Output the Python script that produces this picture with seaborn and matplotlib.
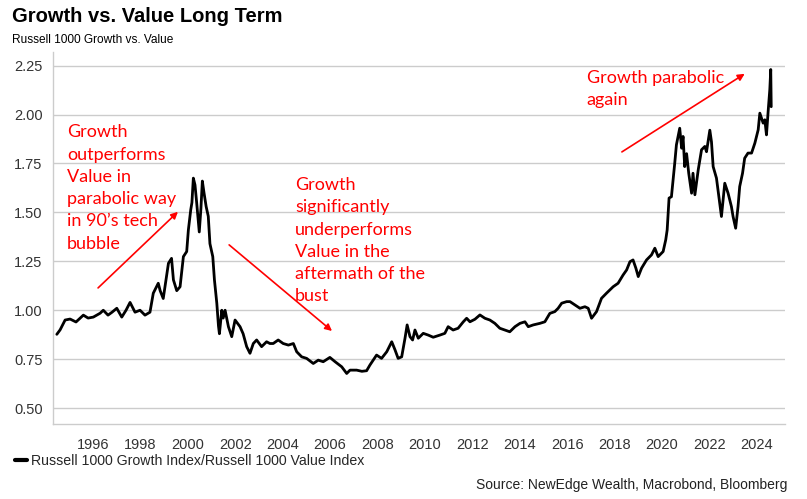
import matplotlib
matplotlib.use("Agg")
import matplotlib.pyplot as plt
import seaborn as sns

# Russell 1000 Growth / Russell 1000 Value ratio
years = [
    1994.47, 1994.61, 1994.82, 1995.03, 1995.28, 1995.59, 1995.79, 1996.01,
    1996.30, 1996.43, 1996.63, 1996.80, 1997.00, 1997.21, 1997.39, 1997.56,
    1997.77, 1997.98, 1998.19, 1998.40, 1998.54, 1998.75, 1998.83, 1998.96,
    1999.18, 1999.31, 1999.39, 1999.53, 1999.67, 1999.81, 1999.95, 2000.02,
    2000.12, 2000.17, 2000.23, 2000.30, 2000.37, 2000.48, 2000.55, 2000.61,
    2000.68, 2000.77, 2000.86, 2000.93, 2001.05, 2001.12, 2001.22, 2001.29,
    2001.33, 2001.43, 2001.49, 2001.57, 2001.71, 2001.85, 2001.99, 2002.20,
    2002.33, 2002.48, 2002.62, 2002.76, 2002.90, 2003.11, 2003.32, 2003.46,
    2003.60, 2003.81, 2004.02, 2004.24, 2004.45, 2004.59, 2004.80, 2005.01,
    2005.29, 2005.50, 2005.71, 2005.99, 2006.21, 2006.49, 2006.70, 2006.84,
    2007.12, 2007.34, 2007.54, 2007.68, 2007.96, 2008.17, 2008.39, 2008.60,
    2008.74, 2008.87, 2009.02, 2009.16, 2009.25, 2009.37, 2009.48, 2009.58,
    2009.72, 2009.93, 2010.14, 2010.35, 2010.63, 2010.84, 2010.98, 2011.19,
    2011.40, 2011.62, 2011.76, 2011.90, 2012.11, 2012.32, 2012.53, 2012.74,
    2012.95, 2013.16, 2013.37, 2013.58, 2013.80, 2014.01, 2014.22, 2014.36,
    2014.57, 2014.85, 2015.06, 2015.27, 2015.48, 2015.62, 2015.77, 2015.98,
    2016.12, 2016.33, 2016.54, 2016.75, 2016.89, 2017.03, 2017.24, 2017.45,
    2017.66, 2017.94, 2018.15, 2018.36, 2018.51, 2018.65, 2018.78, 2018.90,
    2019.00, 2019.14, 2019.35, 2019.56, 2019.70, 2019.84, 2020.05, 2020.16,
    2020.22, 2020.30, 2020.40, 2020.54, 2020.61, 2020.75, 2020.83, 2020.89,
    2020.96, 2021.04, 2021.13, 2021.25, 2021.31, 2021.39, 2021.53, 2021.67,
    2021.81, 2021.88, 2022.02, 2022.09, 2022.16, 2022.30, 2022.44, 2022.51,
    2022.65, 2022.79, 2022.93, 2023.00, 2023.11, 2023.21, 2023.28, 2023.40,
    2023.49, 2023.63, 2023.78, 2023.92, 2024.06, 2024.13, 2024.27, 2024.34,
    2024.41, 2024.48, 2024.55, 2024.59, 2024.61,
]
ratio = [
    0.877, 0.900, 0.950, 0.955, 0.940, 0.975, 0.960, 0.965,
    0.985, 1.000, 0.975, 0.990, 1.010, 0.965, 1.000, 1.040,
    0.990, 1.000, 0.975, 0.990, 1.087, 1.138, 1.100, 1.060,
    1.240, 1.265, 1.155, 1.100, 1.120, 1.274, 1.300, 1.410,
    1.513, 1.550, 1.675, 1.640, 1.550, 1.400, 1.520, 1.660,
    1.600, 1.530, 1.480, 1.340, 1.274, 1.155, 1.036, 0.920,
    0.880, 1.000, 0.960, 1.000, 0.916, 0.865, 0.950, 0.916,
    0.880, 0.814, 0.780, 0.830, 0.848, 0.814, 0.839, 0.830,
    0.830, 0.848, 0.830, 0.822, 0.830, 0.788, 0.762, 0.754,
    0.728, 0.745, 0.737, 0.759, 0.737, 0.711, 0.677, 0.694,
    0.694, 0.688, 0.691, 0.720, 0.771, 0.754, 0.788, 0.839,
    0.797, 0.754, 0.762, 0.857, 0.925, 0.865, 0.848, 0.899,
    0.857, 0.882, 0.873, 0.862, 0.873, 0.882, 0.916, 0.899,
    0.908, 0.941, 0.959, 0.941, 0.954, 0.976, 0.959, 0.950,
    0.933, 0.908, 0.899, 0.890, 0.916, 0.933, 0.941, 0.916,
    0.925, 0.933, 0.941, 0.984, 0.993, 1.010, 1.036, 1.044,
    1.044, 1.027, 1.010, 1.018, 1.010, 0.959, 0.993, 1.061,
    1.087, 1.120, 1.138, 1.180, 1.206, 1.248, 1.257, 1.215,
    1.172, 1.215, 1.257, 1.283, 1.317, 1.274, 1.300, 1.360,
    1.410, 1.573, 1.580, 1.752, 1.845, 1.930, 1.828, 1.888,
    1.734, 1.800, 1.700, 1.598, 1.700, 1.590, 1.717, 1.820,
    1.837, 1.810, 1.920, 1.860, 1.734, 1.675, 1.547, 1.479,
    1.649, 1.598, 1.530, 1.479, 1.419, 1.530, 1.632, 1.700,
    1.777, 1.803, 1.803, 1.854, 1.922, 2.007, 1.956, 1.973,
    1.896, 2.016, 2.127, 2.230, 2.040,
]

x_ticks = list(range(1996, 2025, 2))
y_ticks = [0.50, 0.75, 1.00, 1.25, 1.50, 1.75, 2.00, 2.25]

notes = [
    "Growth\noutperforms\nValue in\nparabolic way\nin 90\u2019s tech\nbubble",
    "Growth\nsignificantly\nunderperforms\nValue in the\naftermath of the\nbust",
    "Growth parabolic\nagain",
]
note_xy = [(1994.90, 1.950), (2004.52, 1.680), (2016.83, 2.227)]
arrows = [
    ((1996.21, 1.114), (1999.58, 1.503)),
    ((2001.74, 1.334), (2006.08, 0.894)),
    ((2018.31, 1.809), (2023.49, 2.208)),
]

sns.set_style("white")
plt.rcParams["font.family"] = ["Liberation Sans", "DejaVu Sans"]

fig = plt.figure(figsize=(8.07, 4.99), dpi=100)
ax = fig.add_axes([0.0657, 0.150, 0.907, 0.746])

sns.lineplot(x=years, y=ratio, ax=ax, color="black", linewidth=2.0,
             label="Russell 1000 Growth Index/Russell 1000 Value Index")

ax.set_xlim(1994.31, 2025.19)
ax.set_ylim(0.418, 2.32)
ax.set_xticks(x_ticks)
ax.set_xticklabels([str(t) for t in x_ticks])
ax.set_yticks(y_ticks)
ax.set_yticklabels([f"{t:.2f}" for t in y_ticks])
ax.tick_params(axis="both", labelsize=10.5, colors="#bbbbbb", labelcolor="#333333",
               length=4, width=1, direction="out")
ax.tick_params(axis="x", pad=6)
ax.grid(axis="y", color="#cccccc", linewidth=1)
for side in ["top", "right"]:
    ax.spines[side].set_visible(False)
for side in ["left", "bottom"]:
    ax.spines[side].set_color("#cccccc")
    ax.spines[side].set_linewidth(1)
ax.set_xlabel("")
ax.set_ylabel("")

for txt, (tx, ty) in zip(notes, note_xy):
    ax.text(tx, ty, txt, color="red", fontsize=13, family=["Lato", "DejaVu Sans"],
            va="top", ha="left", linespacing=1.48)
for (x0, y0), (x1, y1) in arrows:
    ax.annotate("", xy=(x1, y1), xytext=(x0, y0),
                arrowprops=dict(arrowstyle="-|>", color="red", lw=1.2,
                                mutation_scale=10, shrinkA=0, shrinkB=0))

ax.legend(loc="lower left", bbox_to_anchor=(0.019, 0.063), bbox_transform=fig.transFigure,
          frameon=False, fontsize=10.2, handlelength=0.8, handletextpad=0.3,
          borderaxespad=0, borderpad=0)
for line in ax.get_legend().get_lines():
    line.set_linewidth(3)

fig.text(0.015, 0.966, "Growth vs. Value Long Term", fontsize=14.5, fontweight="bold",
         ha="left", va="center", color="black")
fig.text(0.015, 0.919, "Russell 1000 Growth vs. Value", fontsize=8.6, ha="left",
         va="center", color="black")
fig.text(0.976, 0.028, "Source: NewEdge Wealth, Macrobond, Bloomberg", fontsize=10,
         ha="right", va="center", color="#222222")

fig.savefig("out.png", dpi=100)
